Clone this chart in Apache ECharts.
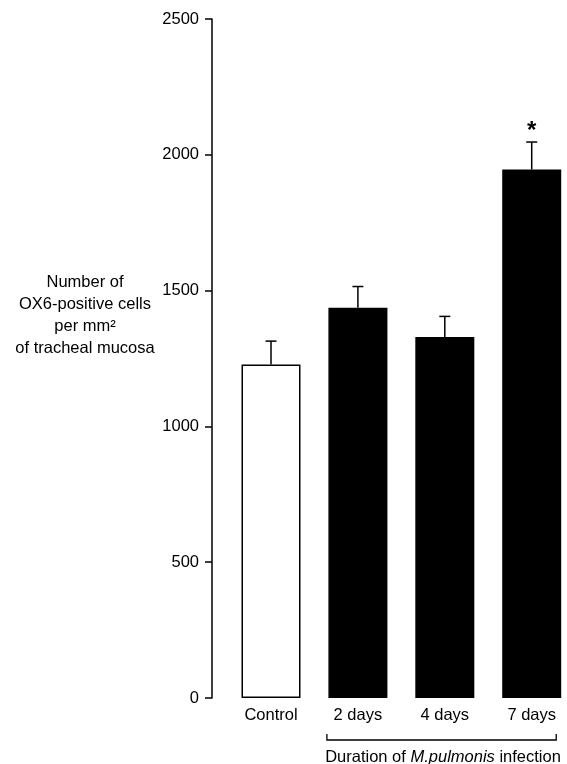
<!DOCTYPE html>
<html>
<head>
<meta charset="utf-8">
<script src="https://cdn.jsdelivr.net/npm/echarts@6/dist/echarts.min.js"></script>
<style>html,body{margin:0;padding:0;background:#fff;}#c{width:567px;height:764px;}</style>
</head>
<body>
<div id="c"></div>
<script>
var categories = ['Control', '2 days', '4 days', '7 days'];
var means = [1228, 1437, 1329, 1946];
var errUpper = [1314, 1515, 1405, 2047];
var significance = ['', '', '', '*'];
var barColors = ['#ffffff', '#000000', '#000000', '#000000'];
var yTicks = [0, 500, 1000, 1500, 2000, 2500];
var yTitleLines = ['Number of', 'OX6-positive cells', 'per mm\u00B2', 'of tracheal mucosa'];
var bracketLabel = ['Duration of ', 'M.pulmonis', ' infection'];

var FONT = '"Liberation Sans", Arial, Helvetica, sans-serif';
var FS = 16.5;
var chart = echarts.init(document.getElementById('c'), null, {renderer: 'canvas'});

var option = {
  backgroundColor: '#ffffff',
  animation: false,
  grid: {left: 212, right: 0, top: 19, bottom: 66, containLabel: false},
  xAxis: {
    type: 'value',
    min: -0.679, max: 3.406,
    axisLine: {show: false},
    axisTick: {show: false},
    axisLabel: {show: false},
    splitLine: {show: false}
  },
  yAxis: {
    type: 'value',
    min: yTicks[0], max: yTicks[yTicks.length - 1], interval: yTicks[1] - yTicks[0],
    axisLine: {show: true, onZero: false, lineStyle: {color: '#000', width: 1.5}},
    axisTick: {show: true, inside: false, length: 7, lineStyle: {color: '#000', width: 1.5}},
    axisLabel: {color: '#000', fontFamily: FONT, fontSize: FS, margin: 13, formatter: function (v) { return String(v); }},
    splitLine: {show: false}
  },
  series: [
    {
      type: 'bar',
      barWidth: 59,
      data: means.map(function (v, i) {
        return {value: [i, v], itemStyle: {color: barColors[i], borderColor: '#000', borderWidth: 1.5}};
      }),
      z: 2
    },
    {
      type: 'custom',
      z: 3,
      data: categories.map(function (c, i) { return [i, means[i], errUpper[i]]; }),
      renderItem: function (params, api) {
        var i = api.value(0);
        var base = api.coord([i, api.value(1)]);
        var top = api.coord([i, api.value(2)]);
        var zero = api.coord([i, 0]);
        var cap = 5.5;
        var children = [
          {type: 'line', shape: {x1: base[0], y1: base[1], x2: top[0], y2: top[1]}, style: {stroke: '#000', lineWidth: 1.5}},
          {type: 'line', shape: {x1: top[0] - cap, y1: top[1], x2: top[0] + cap, y2: top[1]}, style: {stroke: '#000', lineWidth: 1.5}},
          {type: 'text', style: {text: categories[params.dataIndex], x: zero[0], y: zero[1] + 17, textAlign: 'center', textVerticalAlign: 'middle', fontFamily: FONT, fontSize: FS, fill: '#000'}}
        ];
        var s = significance[params.dataIndex];
        if (s) {
          children.push({type: 'text', style: {text: s, x: top[0], y: top[1] + 1, textAlign: 'center', textVerticalAlign: 'bottom', font: 'bold 24px ' + FONT, fill: '#000'}});
        }
        return {type: 'group', children: children};
      }
    }
  ]
};
chart.setOption(option);

// annotations
var p2 = chart.convertToPixel({gridIndex: 0}, [1, 0]);
var p7 = chart.convertToPixel({gridIndex: 0}, [3, 0]);
var halfBar = 29.5;
var bx1 = p2[0] - halfBar - 1.5, bx2 = p7[0] + halfBar - 5;
var by = 740;
var graphics = [
  {type: 'polyline', shape: {points: [[bx1, by - 6], [bx1, by], [bx2, by], [bx2, by - 6]]}, style: {stroke: '#000', lineWidth: 1.3, fill: null}},
  {type: 'text', style: {
    rich: {n: {fontFamily: FONT, fontSize: FS, fill: '#000'}, i: {fontFamily: FONT, fontSize: FS, fontStyle: 'italic', fill: '#000'}},
    text: '{n|' + bracketLabel[0] + '}{i|' + bracketLabel[1] + '}{n|' + bracketLabel[2] + '}',
    x: 443, y: 757, textAlign: 'center', textVerticalAlign: 'middle'
  }}
];
yTitleLines.forEach(function (t, k) {
  graphics.push({type: 'text', style: {text: t, x: 85, y: 282 + k * 22.3, textAlign: 'center', textVerticalAlign: 'middle', fontFamily: FONT, fontSize: FS, fill: '#000'}});
});
chart.setOption({graphic: graphics});
</script>
</body>
</html>
